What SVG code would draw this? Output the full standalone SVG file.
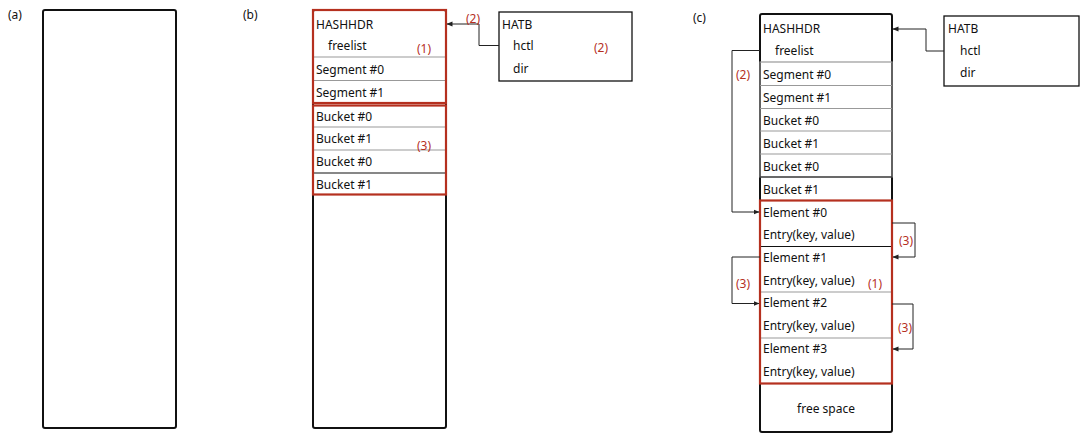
<svg xmlns="http://www.w3.org/2000/svg" width="1080" height="434" viewBox="0 0 1080 434">
<style>
text{font-family:"Noto Sans","Open Sans",sans-serif;font-size:12px;fill:#111;dominant-baseline:central}
.red{fill:#b5301f}
.box{fill:#fff;stroke:#111;stroke-width:2}
.thin{fill:#fff;stroke:#111;stroke-width:1.3}
.sep{stroke:#999;stroke-width:1.2}
.sepk{stroke:#111;stroke-width:1.2}
.rb{fill:none;stroke:#b5301f;stroke-width:2.2}
.con{fill:none;stroke:#222;stroke-width:1}
</style>
<defs>
<marker id="ah" markerWidth="6" markerHeight="6" refX="5.5" refY="3" orient="auto" markerUnits="userSpaceOnUse">
<path d="M0,0.5 L6,3 L0,5.5 z" fill="#222"/>
</marker>
</defs>
<text x="8" y="14">(a)</text>
<text x="243" y="14">(b)</text>
<text x="693" y="17">(c)</text>

<g id="panel-a">
<rect class="box" x="43" y="10" width="133" height="418" rx="2"/>
</g>

<g id="panel-b">
<rect class="box" x="313" y="10" width="133" height="418" rx="2"/>
<line class="sep" x1="313" y1="57" x2="446" y2="57"/>
<line class="sep" x1="313" y1="80.5" x2="446" y2="80.5"/>
<line class="sep" x1="313" y1="127" x2="446" y2="127"/>
<line class="sep" x1="313" y1="150" x2="446" y2="150"/>
<line class="sepk" x1="313" y1="173" x2="446" y2="173"/>
<rect class="rb" x="313" y="10" width="133" height="93"/>
<rect class="rb" x="313" y="105.5" width="133" height="89"/>
<text x="316" y="24">HASHHDR</text>
<text x="328" y="45">freelist</text>
<text class="red" x="417" y="48">(1)</text>
<text x="316" y="69">Segment #0</text>
<text x="316" y="92">Segment #1</text>
<text x="316" y="116">Bucket #0</text>
<text x="316" y="138">Bucket #1</text>
<text class="red" x="417" y="145">(3)</text>
<text x="316" y="161">Bucket #0</text>
<text x="316" y="184">Bucket #1</text>
</g>

<g id="hatb-b">
<rect class="thin" x="499" y="12" width="133" height="69"/>
<text x="502" y="24">HATB</text>
<text x="513" y="45">hctl</text>
<text x="513" y="68">dir</text>
<text class="red" x="594" y="47">(2)</text>
</g>

<g id="panel-c">
<rect class="box" x="760" y="14" width="132" height="418" rx="2"/>
<rect fill="none" stroke="#999" stroke-width="1.2" x="760" y="62" width="132" height="115"/>
<line class="sep" x1="760" y1="85.5" x2="892" y2="85.5"/>
<line class="sep" x1="760" y1="108.5" x2="892" y2="108.5"/>
<line class="sep" x1="760" y1="131" x2="892" y2="131"/>
<line class="sep" x1="760" y1="154" x2="892" y2="154"/>
<line class="sepk" x1="760" y1="177" x2="892" y2="177"/>
<line class="sepk" x1="760" y1="246.5" x2="892" y2="246.5"/>
<line class="sep" x1="760" y1="292" x2="892" y2="292"/>
<line class="sep" x1="760" y1="338" x2="892" y2="338"/>
<rect class="rb" x="760" y="200.5" width="132" height="183" stroke-width="1.6"/>
<text x="763" y="28">HASHHDR</text>
<text x="775" y="50">freelist</text>
<text x="763" y="74">Segment #0</text>
<text x="763" y="97">Segment #1</text>
<text x="763" y="120">Bucket #0</text>
<text x="763" y="143">Bucket #1</text>
<text x="763" y="166">Bucket #0</text>
<text x="763" y="189">Bucket #1</text>
<text x="763" y="212">Element #0</text>
<text x="763" y="234">Entry(key, value)</text>
<text x="763" y="257">Element #1</text>
<text x="763" y="280">Entry(key, value)</text>
<text class="red" x="868" y="283">(1)</text>
<text x="763" y="302">Element #2</text>
<text x="763" y="325">Entry(key, value)</text>
<text x="763" y="348">Element #3</text>
<text x="763" y="371">Entry(key, value)</text>
<text x="826" y="408" text-anchor="middle">free space</text>
</g>

<g id="hatb-c">
<rect class="thin" x="944" y="16" width="135" height="70"/>
<text x="948" y="28">HATB</text>
<text x="960" y="50">hctl</text>
<text x="960" y="72">dir</text>
</g>

<g id="connectors">
<polyline class="con" points="499,45.5 479,45.5 479,24 447,24" marker-end="url(#ah)"/>
<text class="red" x="466" y="18">(2)</text>
<polyline class="con" points="944,51 926,51 926,29 893,29" marker-end="url(#ah)"/>
<polyline class="con" points="760,50.5 732,50.5 732,212 759,212" marker-end="url(#ah)"/>
<text class="red" x="736" y="74">(2)</text>
<polyline class="con" points="892,223 915,223 915,257 893,257" marker-end="url(#ah)"/>
<text class="red" x="899" y="240">(3)</text>
<polyline class="con" points="760,257 732,257 732,303.5 759,303.5" marker-end="url(#ah)"/>
<text class="red" x="736" y="283">(3)</text>
<polyline class="con" points="892,304 913,304 913,349 893,349" marker-end="url(#ah)"/>
<text class="red" x="898" y="327">(3)</text>
</g>
</svg>
